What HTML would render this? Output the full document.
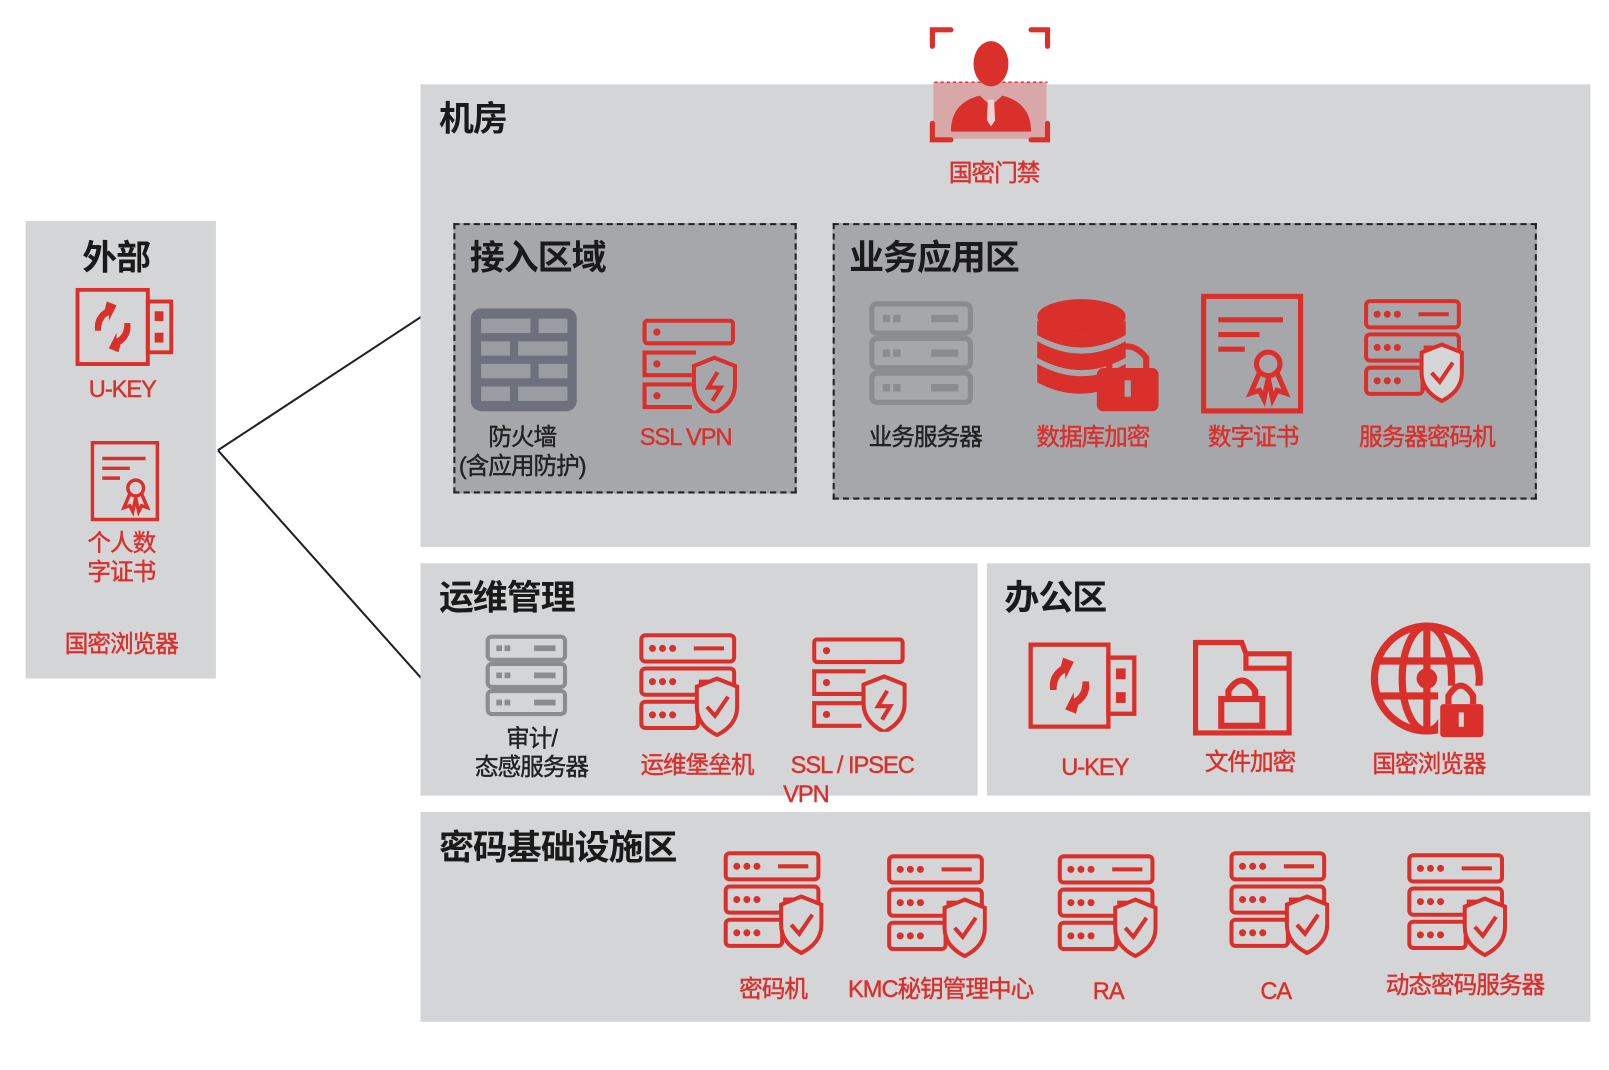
<!DOCTYPE html>
<html><head><meta charset="utf-8"><style>
body{margin:0;width:1609px;height:1041px;background:#fff;position:relative;overflow:hidden;font-family:"Liberation Sans","Noto Sans CJK SC",sans-serif}
#w{position:absolute;left:0;top:0;width:1609px;height:1041px;transform:scale(1.028);transform-origin:0 0}
.p{position:absolute;background:#d4d5d7}
.d{position:absolute;background:#a6a7ab;border:2px dashed #222;box-sizing:border-box}
.t{position:absolute;font-weight:bold;font-size:34px;color:#1a1a1a;font-family:"Noto Sans CJK SC",sans-serif;line-height:1;white-space:nowrap;letter-spacing:-1px}
.l{position:absolute;font-size:23px;line-height:28px;white-space:nowrap;transform:translateX(-50%);text-align:center;color:#d9302c;letter-spacing:-1px;-webkit-text-stroke:0.4px currentColor}
.k{color:#222}
svg.i{position:absolute;overflow:visible}
</style></head><body>
<svg width="0" height="0" style="position:absolute">
<defs>
<symbol id="ss" viewBox="0 0 100 104">
<g fill="none" stroke="#d9302c" stroke-width="4">
<rect x="3" y="3" width="92" height="26" rx="4"/><rect x="3" y="36" width="92" height="26" rx="4"/><rect x="3" y="69" width="56" height="26" rx="4"/>
<line x1="55" y1="16" x2="85" y2="16"/><line x1="60" y1="49" x2="70" y2="49"/>
<path d="M78 46 L98 54 L98 74 Q98 92 78 102 Q58 92 58 74 L58 54 Z" fill="#d4d5d7"/>
<path d="M68 74 L76 83 L89 64"/>
</g>
<g fill="#d9302c"><circle cx="14" cy="16" r="3.5"/><circle cx="24" cy="16" r="3.5"/><circle cx="34" cy="16" r="3.5"/><circle cx="14" cy="49" r="3.5"/><circle cx="24" cy="49" r="3.5"/><circle cx="34" cy="49" r="3.5"/><circle cx="14" cy="82" r="3.5"/><circle cx="24" cy="82" r="3.5"/><circle cx="34" cy="82" r="3.5"/></g>
</symbol>
<symbol id="vpn" viewBox="0 0 92 92">
<g fill="none" stroke="#d9302c" stroke-width="4">
<rect x="2" y="2" width="86" height="22" rx="3"/><path d="M52 33 H2 V55 H48"/><path d="M48 64 H2 V86 H48"/>
<path d="M70 38 L90 46 L90 64 Q90 82 70 92 Q50 82 50 64 L50 46 Z"/>
<path d="M73 52 L64 67 H76 L68 80"/>
</g>
<g fill="#d9302c"><circle cx="14" cy="13" r="3.5"/><circle cx="14" cy="44" r="3.5"/><circle cx="14" cy="75" r="3.5"/></g>
</symbol>
<symbol id="gsrv" viewBox="0 0 100 100">
<g fill="none" stroke-width="5"><rect x="3" y="3" width="94" height="28" rx="5"/><rect x="3" y="36" width="94" height="28" rx="5"/><rect x="3" y="69" width="94" height="28" rx="5"/></g>
<g><rect x="14" y="14" width="6" height="6"/><rect x="24" y="14" width="6" height="6"/><rect x="60" y="14" width="25" height="6"/><rect x="14" y="47" width="6" height="6"/><rect x="24" y="47" width="6" height="6"/><rect x="60" y="47" width="25" height="6"/><rect x="14" y="80" width="6" height="6"/><rect x="24" y="80" width="6" height="6"/><rect x="60" y="80" width="25" height="6"/></g>
</symbol>
<symbol id="ukey" viewBox="0 0 100 80">
<g fill="none" stroke="#d9302c" stroke-width="4"><rect x="2" y="2" width="72" height="76"/><rect x="74" y="14" width="24" height="52"/></g>
<g fill="#d9302c"><rect x="81" y="24" width="9" height="10"/><rect x="81" y="46" width="9" height="10"/>
<path d="M42 18 L32 14 L30 22 Q18 30 20 44 L26 44 Q26 32 34 28 L34 34 Z"/><path d="M34 62 L44 66 L46 58 Q58 50 56 36 L50 36 Q50 48 42 52 L42 46 Z"/></g>
</symbol>
<symbol id="cert" viewBox="0 0 70 82">
<g fill="none" stroke="#d9302c" stroke-width="3.5"><rect x="2" y="2" width="66" height="78"/><line x1="12" y1="18" x2="56" y2="18"/><line x1="12" y1="28" x2="40" y2="28"/><line x1="12" y1="38" x2="30" y2="38"/><circle cx="46" cy="48" r="8"/><path d="M40 54 L34 68 L40 66 L43 72 L46 58 L49 72 L52 66 L58 68 L52 54"/></g>
</symbol>
</defs></svg>
<div id="w">
<svg class="i" style="left:0;top:0" width="1609" height="1041"><path d="M212 438 L410 308 M212 438 L410 660" stroke="#222" stroke-width="2" fill="none"/></svg>

<div class="p" style="left:25px;top:215px;width:185px;height:445px"></div>
<div class="t" style="left:80px;top:231px">外部</div>
<svg class="i" style="left:73px;top:280px" width="96" height="76"><use href="#ukey" width="96" height="76"/></svg>
<div class="l" style="left:119px;top:364px">U-KEY</div>
<svg class="i" style="left:88px;top:428px" width="67" height="80"><use href="#cert" width="67" height="80"/></svg>
<div class="l" style="left:118px;top:514px">个人数<br>字证书</div>
<div class="l" style="left:118px;top:612px">国密浏览器</div>

<div class="p" style="left:409px;top:82px;width:1138px;height:450px"></div>
<div class="t" style="left:427px;top:96px">机房</div>
<div style="position:absolute;left:908px;top:80px;width:110px;height:55px;background:#d8a8a8"></div>
<svg class="i" style="left:905px;top:25px" width="118" height="115">
<g fill="none" stroke="#d9302c" stroke-width="5" stroke-linecap="round"><path d="M2 20 V4 H20"/><path d="M98 4 H114 V20"/><path d="M2 95 V111 H20"/><path d="M98 111 H114 V95"/></g>
<path d="M4 55 H114" stroke="#d9302c" stroke-dasharray="3 3" stroke-width="1.5"/>
<ellipse cx="59" cy="37" rx="17" ry="22" fill="#d9302c"/>
<path d="M20 103 Q20 75 48 68 L59 78 L70 68 Q98 75 98 103 Z" fill="#d9302c"/>
<path d="M56 72 L62 72 L63 92 L59 98 L55 92 Z" fill="#f0d0d0"/>
</svg>
<div class="l" style="left:967px;top:154px">国密门禁</div>

<div class="d" style="left:441px;top:217px;width:334px;height:263px"></div>
<div class="t" style="left:457px;top:231px">接入区域</div>
<svg class="i" style="left:458px;top:300px" width="103" height="100"><rect x="0" y="0" width="103" height="100" rx="10" fill="#6d717d"/>
<g fill="#9a9ca3"><rect x="10" y="10" width="48" height="14"/><rect x="66" y="10" width="28" height="14"/><rect x="10" y="32" width="28" height="14"/><rect x="46" y="32" width="48" height="14"/><rect x="10" y="54" width="48" height="14"/><rect x="66" y="54" width="28" height="14"/><rect x="10" y="76" width="28" height="14"/><rect x="46" y="76" width="48" height="14"/></g></svg>
<div class="l k" style="left:508px;top:411px">防火墙</div>
<div class="l k" style="left:508px;top:439px">(含应用防护)</div>
<svg class="i" style="left:625px;top:310px" width="92" height="92"><use href="#vpn" width="92" height="92"/></svg>
<div class="l" style="left:667px;top:411px">SSL VPN</div>

<div class="d" style="left:810px;top:217px;width:685px;height:269px"></div>
<div class="t" style="left:826px;top:231px">业务应用区</div>
<svg class="i" style="left:845px;top:292px" width="102" height="103"><use href="#gsrv" width="102" height="103" fill="#8b8c90" stroke="#8b8c90"/></svg>
<div class="l k" style="left:900px;top:411px">业务服务器</div>
<svg class="i" style="left:1007px;top:290px" width="122" height="112">
<g fill="#d9302c"><ellipse cx="45" cy="18" rx="43" ry="17"/><path d="M2 22 Q45 48 88 22 V36 Q45 60 2 36 Z"/><path d="M2 42 Q45 66 88 42 V58 Q45 82 2 58 Z"/><path d="M2 64 Q45 88 88 64 V80 Q45 105 2 82 Z"/></g>
<path d="M72 70 V58 Q90 36 108 58 V70" fill="none" stroke="#d9302c" stroke-width="6"/>
<rect x="60" y="68" width="60" height="42" rx="6" fill="#d9302c"/><rect x="87" y="80" width="6" height="16" fill="#a6a7ab"/>
</svg>
<div class="l" style="left:1063px;top:411px">数据库加密</div>
<svg class="i" style="left:1168px;top:285px" width="100" height="120"><use href="#cert" width="100" height="118"/></svg>
<div class="l" style="left:1219px;top:411px">数字证书</div>
<svg class="i" style="left:1325px;top:290px" width="100" height="102"><use href="#ss" width="100" height="102"/></svg>
<div class="l" style="left:1388px;top:411px">服务器密码机</div>

<div class="p" style="left:409px;top:548px;width:542px;height:226px"></div>
<div class="t" style="left:427px;top:562px">运维管理</div>
<svg class="i" style="left:467px;top:617px" width="90" height="80"><use href="#gsrv" width="90" height="80" fill="#8b8c90" stroke="#8b8c90"/></svg>
<div class="l k" style="left:517px;top:704px">审计/<br>态感服务器</div>
<svg class="i" style="left:620px;top:615px" width="100" height="102"><use href="#ss" width="100" height="102"/></svg>
<div class="l" style="left:678px;top:730px">运维堡垒机</div>
<svg class="i" style="left:790px;top:620px" width="92" height="92"><use href="#vpn" width="92" height="92"/></svg>
<div class="l" style="left:829px;top:730px">SSL / IPSEC</div>
<div class="l" style="left:784px;top:758px">VPN</div>

<div class="p" style="left:960px;top:548px;width:587px;height:226px"></div>
<div class="t" style="left:977px;top:562px">办公区</div>
<svg class="i" style="left:1000px;top:625px" width="106" height="84"><use href="#ukey" width="106" height="84"/></svg>
<div class="l" style="left:1065px;top:732px">U-KEY</div>
<svg class="i" style="left:1160px;top:622px" width="97" height="94">
<path d="M3 3 H48 L52 14 H94 V91 H3 Z M52 14 V28 H94" fill="none" stroke="#d9302c" stroke-width="5"/>
<path d="M35 60 V50 Q48 30 61 50 V60" fill="none" stroke="#d9302c" stroke-width="6"/>
<rect x="28" y="58" width="40" height="26" fill="none" stroke="#d9302c" stroke-width="6"/>
</svg>
<div class="l" style="left:1216px;top:727px">文件加密</div>
<svg class="i" style="left:1333px;top:605px" width="113" height="113">
<g fill="none" stroke="#d9302c" stroke-width="7"><circle cx="55" cy="55" r="51"/><ellipse cx="55" cy="55" rx="24" ry="51"/><line x1="4" y1="38" x2="106" y2="38"/><line x1="4" y1="72" x2="80" y2="72"/><line x1="55" y1="4" x2="55" y2="106"/></g>
<circle cx="55" cy="55" r="10" fill="#d9302c"/>
<rect x="66" y="62" width="44" height="48" fill="#d4d5d7"/>
<path d="M76 80 V72 Q88 52 100 72 V80" fill="none" stroke="#d9302c" stroke-width="6"/>
<rect x="68" y="80" width="42" height="32" rx="3" fill="#d9302c"/><rect x="86" y="88" width="5" height="14" fill="#d4d5d7"/>
</svg>
<div class="l" style="left:1390px;top:729px">国密浏览器</div>

<div class="p" style="left:409px;top:790px;width:1138px;height:204px"></div>
<div class="t" style="left:427px;top:805px">密码基础设施区</div>
<svg class="i" style="left:703px;top:826px" width="98" height="104"><use href="#ss" width="98" height="104"/></svg>
<svg class="i" style="left:862px;top:830px" width="98" height="102"><use href="#ss" width="98" height="102"/></svg>
<svg class="i" style="left:1028px;top:830px" width="98" height="102"><use href="#ss" width="98" height="102"/></svg>
<svg class="i" style="left:1195px;top:826px" width="98" height="104"><use href="#ss" width="98" height="104"/></svg>
<svg class="i" style="left:1368px;top:828px" width="98" height="104"><use href="#ss" width="98" height="104"/></svg>
<div class="l" style="left:752px;top:948px">密码机</div>
<div class="l" style="left:915px;top:948px">KMC秘钥管理中心</div>
<div class="l" style="left:1078px;top:950px">RA</div>
<div class="l" style="left:1241px;top:950px">CA</div>
<div class="l" style="left:1425px;top:944px">动态密码服务器</div>
</div>
</body></html>
